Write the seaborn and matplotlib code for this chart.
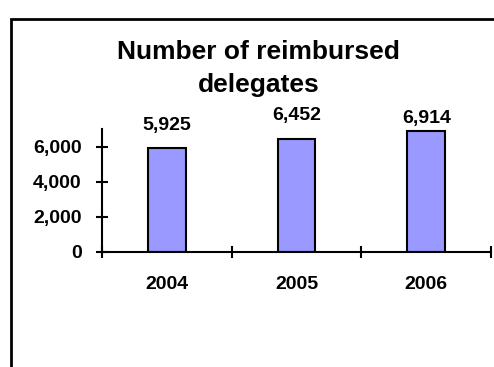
import matplotlib
matplotlib.use('Agg')
import matplotlib.pyplot as plt
import seaborn as sns
import pandas as pd
from matplotlib.patches import Rectangle

# data
years = ['2004', '2005', '2006']
delegates = [5925, 6452, 6914]
label_offsets = [16, 16.5, 8.5]  # points above bar top, as in the original

df = pd.DataFrame({'Year': years, 'Delegates': delegates})

sns.set_style('white')
plt.rcParams['font.family'] = ['Liberation Sans', 'DejaVu Sans']
plt.rcParams['font.weight'] = 'bold'
plt.rcParams['text.color'] = 'black'
plt.rcParams['xtick.color'] = 'black'
plt.rcParams['ytick.color'] = 'black'

fig = plt.figure(figsize=(4.94, 3.67), dpi=100)
ax = fig.add_axes([0.2065, 0.3134, 0.7875, 0.335])

sns.barplot(data=df, x='Year', y='Delegates', color='#9999FF', saturation=1,
            width=0.29, edgecolor='black', linewidth=1.5, ax=ax)

ax.set_ylim(0, 7000)
ax.set_xlim(-0.5, 2.5)
ax.set_yticks([0, 2000, 4000, 6000])
ax.set_yticklabels([f'{v:,}' for v in [0, 2000, 4000, 6000]])
ax.set_xticks([-0.5, 0.5, 1.5, 2.5], minor=False)
ax.set_xticklabels(['', '', '', ''])
ax.set_xticks([0, 1, 2], minor=True)
ax.set_xticklabels(years, minor=True)
ax.tick_params(axis='x', which='minor', bottom=False, pad=15, labelsize=14)
ax.tick_params(axis='x', which='major', bottom=True, direction='inout', length=9, width=1.5)
ax.tick_params(axis='y', left=True, direction='inout', length=9, width=1.5, labelsize=14, pad=10)
ax.set_xlabel('')
ax.set_ylabel('')

for s in ['top', 'right']:
    ax.spines[s].set_visible(False)
for s in ['left', 'bottom']:
    ax.spines[s].set_linewidth(1.5)
    ax.spines[s].set_color('black')

for i, (v, off) in enumerate(zip(delegates, label_offsets)):
    ax.annotate(f'{v:,}', xy=(i, v), xytext=(0, off), textcoords='offset points',
                ha='center', va='center', fontsize=14, fontweight='bold',
                annotation_clip=False)

fig.text(0.524, 0.813, 'Number of reimbursed\ndelegates', ha='center', va='center',
         fontsize=19, fontweight='bold', linespacing=1.5)

# outer chart frame
fig.patches.append(Rectangle((11 / 494, -0.1), 1.2, 1 - 19 / 367 + 0.1,
                             transform=fig.transFigure, fill=False,
                             edgecolor='black', linewidth=2))

fig.savefig('out.png', dpi=100)
